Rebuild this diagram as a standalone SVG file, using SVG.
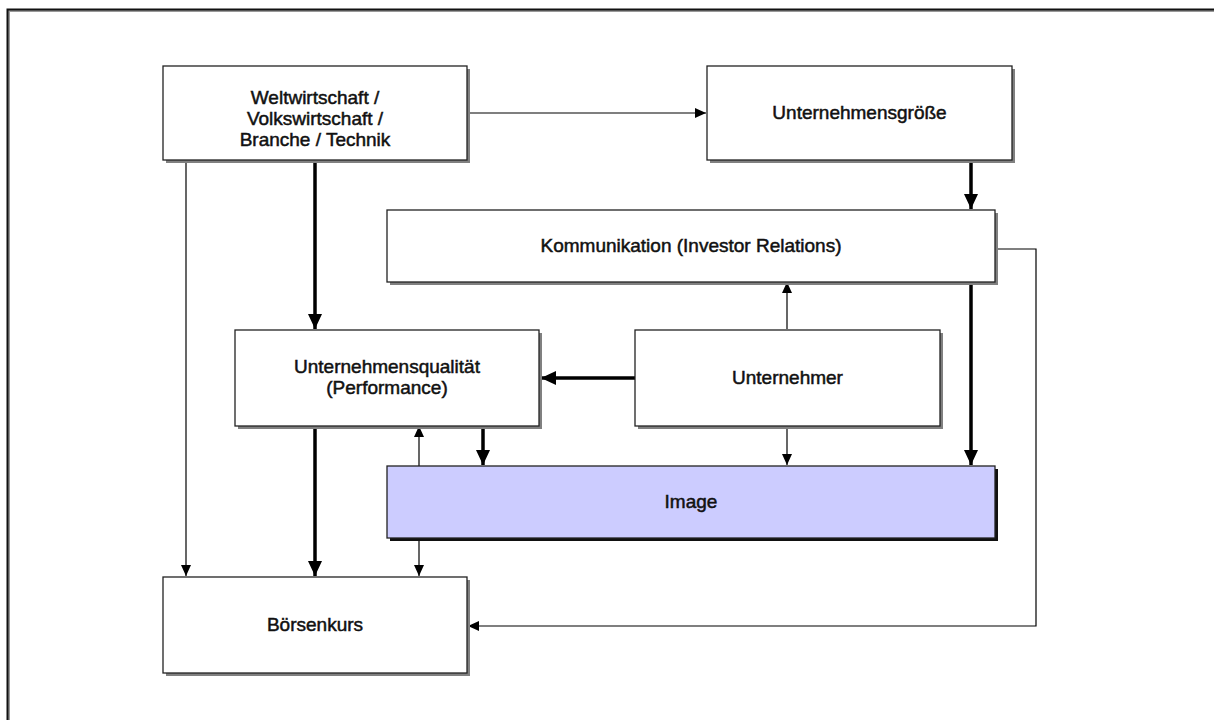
<svg xmlns="http://www.w3.org/2000/svg" width="1214" height="720" viewBox="0 0 1214 720">
<style>
.box{fill:#fff;stroke:#222;stroke-width:1.3}
.sh{fill:#808080}
.txt{font-family:"Liberation Sans",Arial,sans-serif;font-size:19px;fill:#111;text-anchor:middle;stroke:#111;stroke-width:0.5}
.thin{fill:none;stroke:#000;stroke-width:1.2}
.thick{fill:none;stroke:#000;stroke-width:3.5}
</style>
<defs>
<marker id="aThin" markerUnits="userSpaceOnUse" markerWidth="12" markerHeight="10" refX="11" refY="5" orient="auto"><path d="M0,0 L11,5 L0,10 Z" fill="#000"/></marker>
<marker id="aThick" markerUnits="userSpaceOnUse" markerWidth="16" markerHeight="14" refX="15" refY="7" orient="auto"><path d="M0,0 L15,7 L0,14 Z" fill="#000"/></marker>
</defs>
<rect x="0" y="0" width="1214" height="720" fill="#fff"/>
<rect x="9" y="11" width="1220" height="720" fill="none" stroke="#999" stroke-width="2"/>
<rect x="7.5" y="9.5" width="1220" height="720" fill="none" stroke="#111" stroke-width="2"/>

<g id="connectors">
<line class="thin" x1="467" y1="113" x2="706" y2="113" marker-end="url(#aThin)"/>
<line class="thick" x1="315" y1="160" x2="315" y2="329" marker-end="url(#aThick)"/>
<line class="thin" x1="186" y1="160" x2="186" y2="576" marker-end="url(#aThin)"/>
<line class="thick" x1="971" y1="160" x2="971" y2="209" marker-end="url(#aThick)"/>
<line class="thick" x1="971" y1="282" x2="971" y2="465" marker-end="url(#aThick)"/>
<polyline class="thin" points="996,249 1036,249 1036,626 468,626" marker-end="url(#aThin)"/>
<line class="thin" x1="787" y1="329" x2="787" y2="282" marker-end="url(#aThin)"/>
<line class="thick" x1="635" y1="378" x2="541" y2="378" marker-end="url(#aThick)"/>
<line class="thin" x1="787" y1="426" x2="787" y2="465" marker-end="url(#aThin)"/>
<line class="thick" x1="483" y1="426" x2="483" y2="465" marker-end="url(#aThick)"/>
<line class="thin" x1="419" y1="466" x2="419" y2="426" marker-end="url(#aThin)"/>
<line class="thin" x1="419" y1="538" x2="419" y2="576" marker-end="url(#aThin)"/>
<line class="thick" x1="315" y1="426" x2="315" y2="576" marker-end="url(#aThick)"/>
</g>

<g id="welt">
<rect class="sh" x="166" y="69" width="304" height="94"/>
<rect class="box" x="163" y="66" width="304" height="94"/>
<text class="txt" x="315" y="104">Weltwirtschaft /</text>
<text class="txt" x="315" y="125">Volkswirtschaft /</text>
<text class="txt" x="315" y="146">Branche / Technik</text>
</g>

<g id="groesse">
<rect class="sh" x="710" y="69" width="305" height="94"/>
<rect class="box" x="707" y="66" width="305" height="94"/>
<text class="txt" x="859.5" y="119">Unternehmensgröße</text>
</g>

<g id="kommunikation">
<rect class="sh" x="390" y="213" width="608" height="72"/>
<rect class="box" x="387" y="210" width="608" height="72"/>
<text class="txt" x="691" y="252">Kommunikation (Investor Relations)</text>
</g>

<g id="qualitaet">
<rect class="sh" x="238" y="333" width="304" height="96"/>
<rect class="box" x="235" y="330" width="304" height="96"/>
<text class="txt" x="387" y="373">Unternehmensqualität</text>
<text class="txt" x="387" y="394">(Performance)</text>
</g>

<g id="unternehmer">
<rect class="sh" x="638" y="333" width="305" height="96"/>
<rect class="box" x="635" y="330" width="305" height="96"/>
<text class="txt" x="787.5" y="384">Unternehmer</text>
</g>

<g id="image">
<rect x="390" y="469" width="608" height="72" fill="#111"/>
<rect class="box" x="387" y="466" width="608" height="72" style="fill:#ccccff"/>
<text class="txt" x="691" y="508">Image</text>
</g>

<g id="boersenkurs">
<rect class="sh" x="166" y="580" width="304" height="96"/>
<rect class="box" x="163" y="577" width="304" height="96"/>
<text class="txt" x="315" y="631">Börsenkurs</text>
</g>
</svg>
